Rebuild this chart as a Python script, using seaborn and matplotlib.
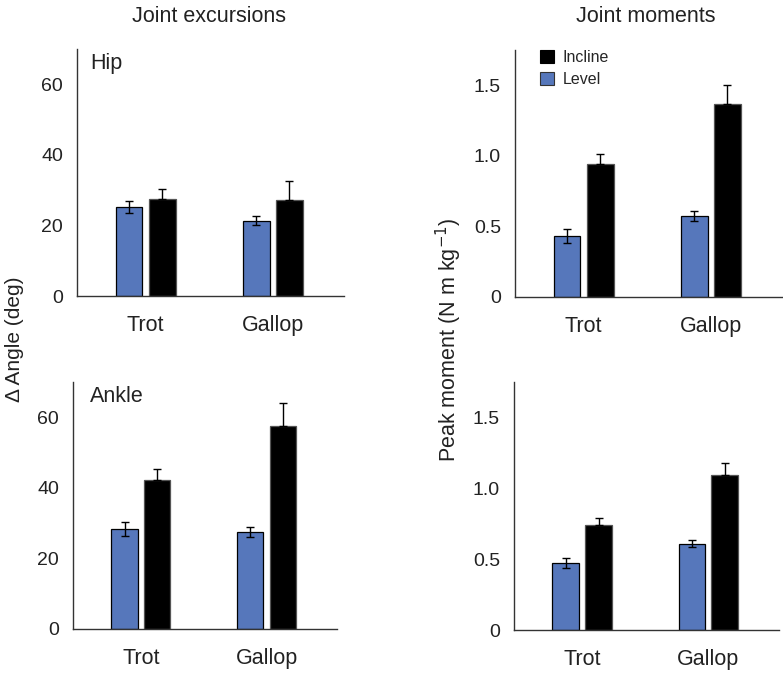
"""
Joint excursions and peak joint moments, level vs incline, trot vs gallop.
Four bar panels (hip / ankle), values read off the published figure.
"""

import numpy as np
import pandas as pd
import matplotlib

matplotlib.use("Agg")
import matplotlib.pyplot as plt
import seaborn as sns
from matplotlib.patches import Patch

GAITS = ["Trot", "Gallop"]
CONDITIONS = ["Level", "Incline"]

# means, per gait (Trot, Gallop)
HIP_ANGLE_LEVEL = [25.2, 21.4]
HIP_ANGLE_INCLINE = [27.4, 27.2]
ANKLE_ANGLE_LEVEL = [28.3, 27.5]
ANKLE_ANGLE_INCLINE = [42.1, 57.5]
HIP_MOMENT_LEVEL = [0.434, 0.575]
HIP_MOMENT_INCLINE = [0.944, 1.368]
ANKLE_MOMENT_LEVEL = [0.474, 0.610]
ANKLE_MOMENT_INCLINE = [0.744, 1.092]

# s.e.m. (level bars drawn both ways, incline bars upward only)
HIP_ANGLE_LEVEL_ERR = [1.8, 1.4]
HIP_ANGLE_INCLINE_ERR = [2.8, 5.5]
ANKLE_ANGLE_LEVEL_ERR = [1.9, 1.5]
ANKLE_ANGLE_INCLINE_ERR = [3.3, 6.5]
HIP_MOMENT_LEVEL_ERR = [0.051, 0.037]
HIP_MOMENT_INCLINE_ERR = [0.066, 0.132]
ANKLE_MOMENT_LEVEL_ERR = [0.033, 0.025]
ANKLE_MOMENT_INCLINE_ERR = [0.045, 0.086]

BLUE = "#5677BB"
PALETTE = {"Level": BLUE, "Incline": "black"}
FONT = ["Liberation Sans", "DejaVu Sans"]
TEXT = "#222222"


def panel_frame(level, incline, level_err, incline_err):
    rows = []
    for i, gait in enumerate(GAITS):
        rows.append({"gait": gait, "condition": "Level",
                     "value": level[i], "err": level_err[i]})
        rows.append({"gait": gait, "condition": "Incline",
                     "value": incline[i], "err": incline_err[i]})
    return pd.DataFrame(rows)


def draw_panel(ax, df, ylim, yticks, yticklabels):
    sns.barplot(data=df, x="gait", y="value", hue="condition",
                order=GAITS, hue_order=CONDITIONS, palette=PALETTE,
                saturation=1, width=0.52, gap=0.19, errorbar=None,
                dodge=True, edgecolor="black", linewidth=0.9, legend=False,
                ax=ax)
    # seaborn draws patches hue-major: Level bars first, then Incline
    patches = ax.patches
    for p in patches[2:4]:
        p.set_edgecolor("#555555")
    for k, cond in enumerate(CONDITIONS):
        sub = df[df["condition"] == cond].set_index("gait").loc[GAITS]
        xs = [p.get_x() + p.get_width() / 2 for p in patches[k * 2:(k + 1) * 2]]
        err = sub["err"].values
        if cond == "Level":
            yerr = err
        else:
            yerr = np.vstack([np.zeros_like(err), err])
        ax.errorbar(xs, sub["value"].values, yerr=yerr, fmt="none",
                    ecolor="black", elinewidth=1.0, capsize=3, capthick=1.0,
                    zorder=3)
    ax.set_xlim(-0.54, 1.56)
    ax.set_ylim(*ylim)
    ax.set_yticks(yticks)
    ax.set_yticklabels(yticklabels)
    ax.set_xlabel("")
    ax.set_ylabel("")
    for side in ("top", "right"):
        ax.spines[side].set_visible(False)
    for side in ("left", "bottom"):
        ax.spines[side].set_color("#333333")
        ax.spines[side].set_linewidth(1.0)
    ax.tick_params(axis="y", direction="out", length=3, width=1.0,
                   color="#333333", pad=7, labelsize=14, labelcolor=TEXT)
    ax.tick_params(axis="x", direction="out", length=2.5, width=1.0,
                   color="#333333", pad=11, labelsize=15.5, labelcolor=TEXT)
    for lab in ax.get_xticklabels() + ax.get_yticklabels():
        lab.set_family(FONT)


def main():
    sns.set_theme(style="white")
    plt.rcParams["font.family"] = FONT

    fig = plt.figure(figsize=(7.83, 6.98), dpi=100)
    ax_hip_a = fig.add_axes([0.0983, 0.5759, 0.3410, 0.3539])
    ax_hip_m = fig.add_axes([0.6577, 0.5745, 0.3410, 0.3539])
    ax_ank_a = fig.add_axes([0.0932, 0.0989, 0.3372, 0.3539])
    ax_ank_m = fig.add_axes([0.6564, 0.0974, 0.3385, 0.3553])

    angle_ticks = [0, 20, 40, 60]
    moment_ticks = [0, 0.5, 1.0, 1.5]
    moment_labels = ["0", "0.5", "1.0", "1.5"]

    draw_panel(ax_hip_a, panel_frame(HIP_ANGLE_LEVEL, HIP_ANGLE_INCLINE,
                                     HIP_ANGLE_LEVEL_ERR, HIP_ANGLE_INCLINE_ERR),
               (0, 70), angle_ticks, [str(t) for t in angle_ticks])
    draw_panel(ax_ank_a, panel_frame(ANKLE_ANGLE_LEVEL, ANKLE_ANGLE_INCLINE,
                                     ANKLE_ANGLE_LEVEL_ERR, ANKLE_ANGLE_INCLINE_ERR),
               (0, 70), angle_ticks, [str(t) for t in angle_ticks])
    draw_panel(ax_hip_m, panel_frame(HIP_MOMENT_LEVEL, HIP_MOMENT_INCLINE,
                                     HIP_MOMENT_LEVEL_ERR, HIP_MOMENT_INCLINE_ERR),
               (0, 1.75), moment_ticks, moment_labels)
    draw_panel(ax_ank_m, panel_frame(ANKLE_MOMENT_LEVEL, ANKLE_MOMENT_INCLINE,
                                     ANKLE_MOMENT_LEVEL_ERR, ANKLE_MOMENT_INCLINE_ERR),
               (0, 1.75), moment_ticks, moment_labels)

    ax_hip_a.text(0.048, 0.985, "Hip", transform=ax_hip_a.transAxes,
                  ha="left", va="top", fontsize=15.5, color=TEXT)
    ax_ank_a.text(0.063, 0.985, "Ankle", transform=ax_ank_a.transAxes,
                  ha="left", va="top", fontsize=15.5, color=TEXT)

    handles = [Patch(facecolor="black", edgecolor="black", linewidth=0.8),
               Patch(facecolor=BLUE, edgecolor="#333333", linewidth=0.8)]
    ax_hip_m.legend(handles, ["Incline", "Level"], loc="upper left",
                    bbox_to_anchor=(0.094, 1.0), frameon=False, fontsize=11.5,
                    handlelength=0.86, handleheight=0.86, handletextpad=0.55,
                    labelspacing=0.45, borderpad=0, borderaxespad=0)

    fig.text(0.267, 0.977, "Joint excursions", ha="center", va="center",
             fontsize=15.5, color=TEXT)
    fig.text(0.825, 0.977, "Joint moments", ha="center", va="center",
             fontsize=15.5, color=TEXT)
    fig.text(0.018, 0.514, "\u0394 Angle (deg)", rotation=90, ha="center",
             va="center", fontsize=15, color=TEXT)
    fig.text(0.573, 0.514, "Peak moment (N m kg$^{-1}$)", rotation=90,
             ha="center", va="center", fontsize=15.5, color=TEXT)

    fig.savefig("out.png", dpi=100)
    plt.close(fig)


if __name__ == "__main__":
    main()
